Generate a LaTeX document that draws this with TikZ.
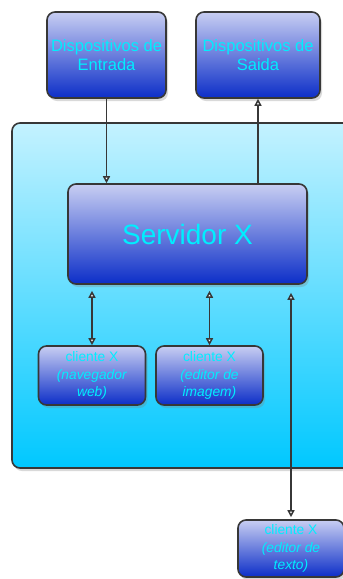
\documentclass[tikz,border=0pt]{standalone}
\usepackage{fontspec}
\setmainfont{Liberation Sans}
\usetikzlibrary{arrows.meta,shadows}

\definecolor{edgegray}{RGB}{55,55,55}
\definecolor{boxtop}{RGB}{200,206,242}
\definecolor{boxbottom}{RGB}{12,46,200}
\definecolor{hosttop}{RGB}{196,242,255}
\definecolor{hostbottom}{RGB}{0,200,255}
\definecolor{labelcyan}{RGB}{0,238,255}

\begin{document}
\begin{tikzpicture}[x=1pt,y=1pt,node distance=179pt]

\tikzstyle{hostbox} = [rectangle, rounded corners=8pt, draw=edgegray, line width=1.6pt, top color=hosttop, bottom color=hostbottom, drop shadow={shadow xshift=2pt, shadow yshift=-3pt, opacity=0.3}]
\tikzstyle{device} = [rectangle, rounded corners=8pt, minimum width=119pt, minimum height=86pt, align=center, draw=edgegray, line width=1.6pt, top color=boxtop, bottom color=boxbottom, text=labelcyan, font=\fontsize{16.5}{19.5}\selectfont, drop shadow={shadow xshift=2pt, shadow yshift=-3pt, opacity=0.3}]
\tikzstyle{server} = [device, minimum width=239pt, minimum height=100pt, font=\fontsize{28}{32}\selectfont]
\tikzstyle{client} = [device, minimum width=107pt, minimum height=59pt, font=\fontsize{13.8}{17.5}\selectfont]
\tikzstyle{arrow} = [line width=1.5pt, draw=edgegray, -{Triangle[length=7pt, width=7pt, fill=white]}]
\tikzstyle{darrow} = [arrow, {Triangle[length=7pt, width=7pt, fill=white]}-{Triangle[length=7pt, width=7pt, fill=white]}]

\useasboundingbox (0,0) rectangle (343,-579);

% Define nodes
\node (host) [hostbox, minimum width=358pt, minimum height=345pt] at (191,-295.5) {};
\node (entrada) [device] at (106.5,-55) {Dispositivos de\\Entrada};
\node (saida) [device, minimum width=124pt] at (258,-55) {Dispositivos de\\Saida};
\node (servidor) [server, below of=entrada, xshift=81pt] {Servidor X};
\node (web) [client] at (92,-375.5) {cliente X\\\textit{(navegador}\\\textit{web)}};
\node (imagem) [client, right of=web, node distance=117.5pt] {cliente X\\\textit{(editor de}\\\textit{imagem)}};
\node (texto) [client, minimum width=106pt, minimum height=57pt] at (291,-548.5) {cliente X\\\textit{(editor de}\\\textit{texto)}};

% Draw arrows
\draw [arrow] (entrada.south) -- (entrada.south |- servidor.north);
\draw [arrow] (saida.south |- servidor.north) -- (saida.south);
\draw [darrow, shorten >=6pt] (web.north) -- (web.north |- servidor.south);
\draw [darrow, shorten >=6pt] (imagem.north) -- (imagem.north |- servidor.south);
\draw [darrow, shorten >=8pt, shorten <=2pt] (texto.north) -- (texto.north |- servidor.south);

\end{tikzpicture}
\end{document}
